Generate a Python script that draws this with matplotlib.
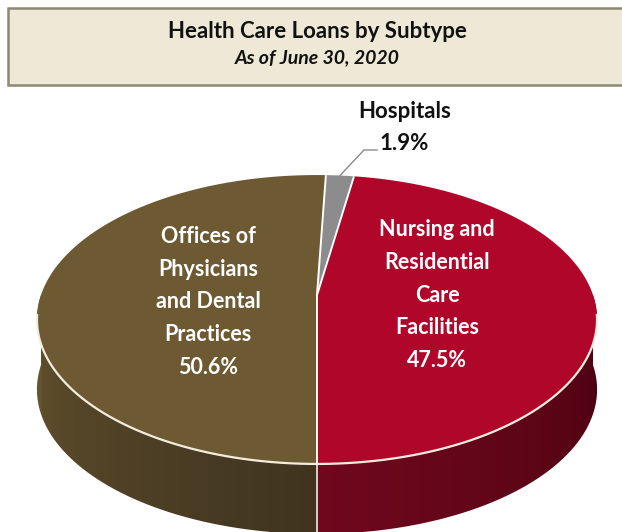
import numpy as np
import matplotlib.pyplot as plt
from matplotlib.patches import Polygon, Rectangle

plt.rcParams['font.family'] = ['Lato', 'DejaVu Sans']

# loan mix by subtype, percent of health care loans
subtypes = ["Offices of\nPhysicians\nand Dental\nPractices", "Hospitals", "Nursing and\nResidential\nCare\nFacilities"]
shares = [50.6, 1.9, 47.5]
top_colors = ["#6D5A33", "#8C8C8C", "#B0062A"]

# 3-d look: perspective disc, projected into pixel space
CX, CY = 317, 295
A, B, K = 276, 140.3, 0.1696
DEPTH = 70


def proj(theta, drop=0.0):
    t = np.radians(theta)
    d = 1 + K * np.sin(t)
    return CX + A * np.cos(t) / d, CY - B * np.sin(t) / d + drop


fig = plt.figure(figsize=(6.22, 5.32), dpi=100)
ax = fig.add_axes([0, 0, 1, 1])
ax.set_xlim(0, 622)
ax.set_ylim(532, 0)
ax.axis("off")

# title box
ax.add_patch(Rectangle((8, 8), 640, 77, facecolor="#EEE9D6", edgecolor="#8E8772", lw=1.8, zorder=1))
ax.text(317, 31, "Health Care Loans by Subtype", ha="center", va="center",
        fontsize=16, fontweight="bold", color="#111111")
ax.text(317, 58, "As of June 30, 2020", ha="center", va="center",
        fontsize=14, fontweight="bold", style="italic", color="#111111")

# slice angles, clockwise from the front
bounds = [270.0]
for s in shares:
    bounds.append(bounds[-1] - 360 * s / sum(shares))


def side_color(theta):
    # brown on the left half of the wall, red on the right
    if theta >= 270:
        f = (theta - 270) / 90
        c0, c1 = np.array([112, 8, 30]), np.array([72, 2, 16])
    else:
        f = (270 - theta) / 90
        c0, c1 = np.array([64, 52, 31]), np.array([102, 84, 48])
    return (c0 + (c1 - c0) * f) / 255


# front wall: a shaded strip clipped to the wall outline
th = np.linspace(180, 360, 721)
wx, wy = proj(th)
outline = list(zip(wx, wy)) + list(zip(wx[::-1], wy[::-1] + DEPTH))
wall = Polygon(outline, closed=True, facecolor="none", edgecolor="none")
ax.add_patch(wall)

cols = np.linspace(wx.min() - 2, wx.max() + 2, 600)
col_theta = np.interp(cols, wx, th)
strip = np.array([side_color(a) for a in col_theta])[None, :, :]
img = ax.imshow(strip, extent=(cols[0], cols[-1], wy.max() + DEPTH + 2, wy.min() - 2),
                aspect="auto", interpolation="bilinear", zorder=2)
img.set_clip_path(wall)
ax.set_xlim(0, 622)
ax.set_ylim(532, 0)

# wall seam below the brown/red boundary
sx, sy = proj(270)
ax.plot([sx, sx], [sy, sy + DEPTH], color="#F3E9E0", lw=1.2, zorder=3)

# top face slices
for i, col in enumerate(top_colors):
    hi, lo = bounds[i], bounds[i + 1]
    t = np.linspace(hi, lo, 200)
    px, py = proj(t)
    pts = [(CX, CY)] + list(zip(px, py))
    ax.add_patch(Polygon(pts, closed=True, facecolor=col, edgecolor="none", zorder=4))

# white seams between slices
for b in bounds[:-1]:
    ex, ey = proj(b)
    ax.plot([CX, ex], [CY, ey], color="white", lw=1.4, zorder=5, solid_capstyle="butt")

# highlight along the front rim
t = np.linspace(188, 352, 300)
rx, ry = proj(t)
ax.plot(rx, ry, color="#F4ECDF", lw=1.6, zorder=5)

# slice labels
ax.text(208, 302, subtypes[0] + "\n%.1f%%" % shares[0], ha="center", va="center",
        fontsize=15.5, fontweight="bold", color="white", linespacing=1.68, zorder=6)
ax.text(437, 295, subtypes[2] + "\n%.1f%%" % shares[2], ha="center", va="center",
        fontsize=15.5, fontweight="bold", color="white", linespacing=1.68, zorder=6)
ax.text(405, 112, subtypes[1], ha="center", va="center",
        fontsize=16, fontweight="bold", color="#111111", zorder=6)
ax.text(404, 144, "%.1f%%" % shares[1], ha="center", va="center",
        fontsize=16, fontweight="bold", color="#111111", zorder=6)

# leader line to the hospitals slice
mid = (bounds[1] + bounds[2]) / 2
lx, ly = proj(mid)
ax.plot([377, 364, lx], [150, 150, ly], color="#8A8A8A", lw=1.0, zorder=6)

fig.savefig("out.png", dpi=100, facecolor="white")
